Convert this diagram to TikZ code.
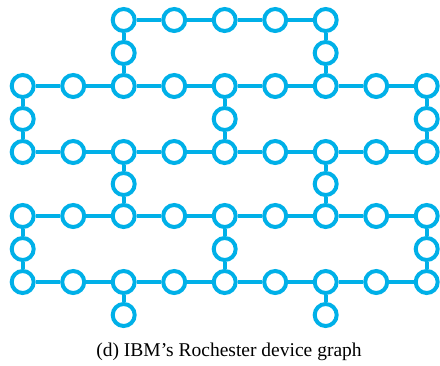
\documentclass[tikz,border=0pt]{standalone}
\usepackage{fontspec}
\setmainfont{Liberation Serif}
\definecolor{qubit}{RGB}{0,176,232}
\begin{document}
\begin{tikzpicture}[x=1pt,y=-1pt,
  qb/.style={circle,draw=qubit,line width=4pt,fill=white,minimum size=22pt,inner sep=0pt},
  link/.style={draw=qubit,line width=4.4pt}]
\useasboundingbox (0,0) rectangle (440,365);
% long rows of nine qubits
\foreach \r/\y in {a/86,b/152,c/216,d/282}{
  \foreach \i in {0,...,8}{
    \node[qb] (\r\i) at ({22.7+50.5*\i},\y) {};
  }
}
% top row of five
\foreach \i in {2,...,6}{
  \node[qb] (t\i) at ({22.7+50.5*\i},20) {};
}
% bridge qubits
\node[qb] (ta2) at ({22.7+50.5*2},53) {};
\node[qb] (ta6) at ({22.7+50.5*6},53) {};
\node[qb] (ab0) at ({22.7+50.5*0},119) {};
\node[qb] (ab4) at ({22.7+50.5*4},119) {};
\node[qb] (ab8) at ({22.7+50.5*8},119) {};
\node[qb] (bc2) at ({22.7+50.5*2},184) {};
\node[qb] (bc6) at ({22.7+50.5*6},184) {};
\node[qb] (cd0) at ({22.7+50.5*0},249) {};
\node[qb] (cd4) at ({22.7+50.5*4},249) {};
\node[qb] (cd8) at ({22.7+50.5*8},249) {};
\node[qb] (e2) at ({22.7+50.5*2},315) {};
\node[qb] (e6) at ({22.7+50.5*6},315) {};
% couplings
\foreach \r in {a,b,c,d}{
  \foreach \i [evaluate=\i as \j using int(\i+1)] in {0,...,7}{
    \path[link] (\r\i) -- (\r\j);
  }
}
\foreach \i [evaluate=\i as \j using int(\i+1)] in {2,...,5}{
  \path[link] (t\i) -- (t\j);
}
\foreach \i in {2,6}{
  \path[link] (t\i) -- (ta\i) -- (a\i);
  \path[link] (b\i) -- (bc\i) -- (c\i);
  \path[link] (d\i) -- (e\i);
}
\foreach \i in {0,4,8}{
  \path[link] (a\i) -- (ab\i) -- (b\i);
  \path[link] (c\i) -- (cd\i) -- (d\i);
}
\node[anchor=base,font=\fontsize{19.5}{22}\selectfont] (cap) at (229,356) {(d) IBM’s Rochester device graph};
\end{tikzpicture}
\end{document}
